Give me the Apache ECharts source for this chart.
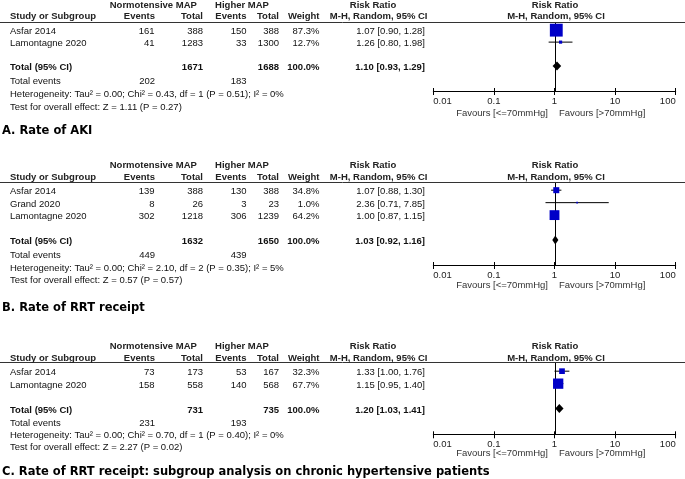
<!DOCTYPE html>
<html><head><meta charset="utf-8">
<script src="https://cdn.jsdelivr.net/npm/echarts@6/dist/echarts.min.js"></script>
<style>html,body{margin:0;padding:0;background:#fff}#c{width:685px;height:479px}</style>
</head><body><div id="c"></div>
<script>
// ---------- DATA ----------
const tickLabels = ['0.01', '0.1', '1', '10', '100'];
const favoursLeft = 'Favours [<=70mmHg]';
const favoursRight = 'Favours [>70mmHg]';

// Panel A: Rate of AKI
const titleA = 'A. Rate of AKI';
const studiesA = ['Asfar 2014', 'Lamontagne 2020'];
const rowsA = [1, 2];
const normEventsA = [161, 41];
const normTotalA = [388, 1283];
const highEventsA = [150, 33];
const highTotalA = [388, 1300];
const weightA = [87.3, 12.7];
const rrA = [1.07, 1.26];
const loA = [0.90, 0.80];
const hiA = [1.28, 1.98];
const totalRowA = 4;
const totalNormA = 1671, totalHighA = 1688;
const totalRrA = [1.10, 0.93, 1.29];
const totalEventsA = [202, 183];
const hetA = 'Heterogeneity: Tau\u00b2 = 0.00; Chi\u00b2 = 0.43, df = 1 (P = 0.51); I\u00b2 = 0%';
const testA = 'Test for overall effect: Z = 1.11 (P = 0.27)';

// Panel B: Rate of RRT receipt
const titleB = 'B. Rate of RRT receipt';
const studiesB = ['Asfar 2014', 'Grand 2020', 'Lamontagne 2020'];
const rowsB = [1, 2, 3];
const normEventsB = [139, 8, 302];
const normTotalB = [388, 26, 1218];
const highEventsB = [130, 3, 306];
const highTotalB = [388, 23, 1239];
const weightB = [34.8, 1.0, 64.2];
const rrB = [1.07, 2.36, 1.00];
const loB = [0.88, 0.71, 0.87];
const hiB = [1.30, 7.85, 1.15];
const totalRowB = 5;
const totalNormB = 1632, totalHighB = 1650;
const totalRrB = [1.03, 0.92, 1.16];
const totalEventsB = [449, 439];
const hetB = 'Heterogeneity: Tau\u00b2 = 0.00; Chi\u00b2 = 2.10, df = 2 (P = 0.35); I\u00b2 = 5%';
const testB = 'Test for overall effect: Z = 0.57 (P = 0.57)';

// Panel C: RRT receipt, chronic hypertensive subgroup
const titleC = 'C. Rate of RRT receipt: subgroup analysis on chronic hypertensive patients';
const studiesC = ['Asfar 2014', 'Lamontagne 2020'];
const rowsC = [1, 2];
const normEventsC = [73, 158];
const normTotalC = [173, 558];
const highEventsC = [53, 140];
const highTotalC = [167, 568];
const weightC = [32.3, 67.7];
const rrC = [1.33, 1.15];
const loC = [1.00, 0.95];
const hiC = [1.76, 1.40];
const totalRowC = 4;
const totalNormC = 731, totalHighC = 735;
const totalRrC = [1.20, 1.03, 1.41];
const totalEventsC = [231, 193];
const hetC = 'Heterogeneity: Tau\u00b2 = 0.00; Chi\u00b2 = 0.70, df = 1 (P = 0.40); I\u00b2 = 0%';
const testC = 'Test for overall effect: Z = 2.27 (P = 0.02)';

// ---------- LAYOUT (pixels) ----------
const layouts = [
  {h1: 5, h2: 16.8, line: 22.5, axis: 91, yMin: 0.36, yMax: 6.085, ev: 81, het: 94, test: 107, fav: 113.3, title: 131},
  {h1: 165, h2: 177.7, line: 182.5, axis: 265, yMin: 0.384, yMax: 7.0, ev: 255.7, het: 268.3, test: 280, fav: 285.5, title: 308.5},
  {h1: 346, h2: 358.3, line: 362.5, axis: 434.3, yMin: 0.304, yMax: 6.06, ev: 423.3, het: 435.7, test: 447.3, fav: 453.6, title: 471.7}
];

const panels = [
  {title: titleA, studies: studiesA, rows: rowsA, ne: normEventsA, nt: normTotalA, he: highEventsA, ht: highTotalA, w: weightA, rr: rrA, lo: loA, hi: hiA,
   totalRow: totalRowA, totalN: totalNormA, totalH: totalHighA, totalRr: totalRrA, totalEv: totalEventsA, het: hetA, test: testA},
  {title: titleB, studies: studiesB, rows: rowsB, ne: normEventsB, nt: normTotalB, he: highEventsB, ht: highTotalB, w: weightB, rr: rrB, lo: loB, hi: hiB,
   totalRow: totalRowB, totalN: totalNormB, totalH: totalHighB, totalRr: totalRrB, totalEv: totalEventsB, het: hetB, test: testB},
  {title: titleC, studies: studiesC, rows: rowsC, ne: normEventsC, nt: normTotalC, he: highEventsC, ht: highTotalC, w: weightC, rr: rrC, lo: loC, hi: hiC,
   totalRow: totalRowC, totalN: totalNormC, totalH: totalHighC, totalRr: totalRrC, totalEv: totalEventsC, het: hetC, test: testC}
];

const FONT = '"Liberation Sans", Arial, sans-serif';
const TFONT = '9.5px ' + FONT;
const BFONT = 'bold 9.5px ' + FONT;
const TITLEFONT = 'bold 11.5px "DejaVu Sans", Verdana, sans-serif';
const TXT = '#111';
const BLUE = '#0000c8';
const PLOT_LEFT = 433.3, PLOT_W = 242.4;

const chart = echarts.init(document.getElementById('c'), null, {renderer: 'canvas'});

const grid = [], xAxis = [], yAxis = [], series = [];
layouts.forEach((L, i) => {
  grid.push({left: PLOT_LEFT, width: PLOT_W, top: L.line, height: L.axis - L.line, containLabel: false});
  yAxis.push({type: 'value', gridIndex: i, inverse: true, min: L.yMin, max: L.yMax, show: false});
});
layouts.forEach((L, i) => {
  xAxis.push({
    type: 'log', logBase: 10, gridIndex: i, min: 0.01, max: 100, position: 'bottom',
    axisLine: {show: true, onZero: false, lineStyle: {color: '#000', width: 1}},
    axisTick: {show: true, inside: false, length: 4, lineStyle: {color: '#000', width: 1}},
    axisLabel: {show: true, color: '#222', fontSize: 9.5, fontFamily: FONT, margin: 5,
      alignMinLabel: 'left', alignMaxLabel: 'right',
      formatter: (v, idx) => tickLabels[idx]},
    splitLine: {show: false}, minorTick: {show: false}
  });
});
layouts.forEach((L, i) => {
  xAxis.push({
    type: 'log', logBase: 10, gridIndex: i, min: 0.01, max: 100, position: 'bottom',
    axisLine: {show: false, onZero: false},
    axisTick: {show: true, inside: true, length: 3, lineStyle: {color: '#000', width: 1}},
    axisLabel: {show: false}, splitLine: {show: false}
  });
});

panels.forEach((P, i) => {
  // reference line at RR = 1
  series.push({
    type: 'custom', xAxisIndex: i, yAxisIndex: i, z: 1, silent: true,
    data: [[1, P.rows[0]]],
    renderItem: (params, api) => {
      const cs = params.coordSys;
      const x = Math.round(api.coord([api.value(0), api.value(1)])[0]) + 0.5;
      return {type: 'line', shape: {x1: x, y1: cs.y, x2: x, y2: cs.y + cs.height},
        style: {stroke: '#000', lineWidth: 1}};
    }
  });
  // studies
  series.push({
    type: 'custom', xAxisIndex: i, yAxisIndex: i, z: 3, silent: true,
    data: P.studies.map((s, k) => [P.rr[k], P.rows[k], P.lo[k], P.hi[k], P.w[k]]),
    encode: {x: 0, y: 1},
    renderItem: (params, api) => {
      const c = api.coord([api.value(0), api.value(1)]);
      const pl = api.coord([api.value(2), api.value(1)]);
      const ph = api.coord([api.value(3), api.value(1)]);
      const s = 1.5 + 0.13 * api.value(4);
      return {type: 'group', children: [
        {type: 'line', shape: {x1: pl[0], y1: c[1], x2: ph[0], y2: c[1]}, style: {stroke: '#000', lineWidth: 1}},
        {type: 'rect', shape: {x: c[0] - s / 2, y: c[1] - s / 2, width: s, height: s}, style: {fill: BLUE}}
      ]};
    }
  });
  // pooled diamond
  series.push({
    type: 'custom', xAxisIndex: i, yAxisIndex: i, z: 3, silent: true,
    data: [[P.totalRr[0], P.totalRow, P.totalRr[1], P.totalRr[2]]],
    encode: {x: 0, y: 1},
    renderItem: (params, api) => {
      const c = api.coord([api.value(0), api.value(1)]);
      const pl = api.coord([api.value(2), api.value(1)]);
      const ph = api.coord([api.value(3), api.value(1)]);
      const hh = 4.5;
      return {type: 'polygon', shape: {points: [[pl[0], c[1]], [c[0], c[1] - hh], [ph[0], c[1]], [c[0], c[1] + hh]]},
        style: {fill: '#000'}};
    }
  });
});

chart.setOption({animation: false, backgroundColor: '#fff', grid, xAxis, yAxis, series});

// ---------- TABLE TEXT ----------
const g = [];
function txt(text, x, y, align, font, fill) {
  g.push({type: 'text', silent: true, z: 10, style: {text: String(text), x, y, align: align || 'left', verticalAlign: 'middle',
    font: font || TFONT, fill: fill || TXT}});
}
const fmtRR = (e, l, h) => e.toFixed(2) + ' [' + l.toFixed(2) + ', ' + h.toFixed(2) + ']';
const COL = {study: 10, ne: 154.5, nt: 203, he: 246.5, ht: 279, w: 319.5, rr: 425};

panels.forEach((P, i) => {
  const L = layouts[i];
  // header rows
  txt('Normotensive MAP', 153.3, L.h1, 'center', BFONT, '#222');
  txt('Higher MAP', 242, L.h1, 'center', BFONT, '#222');
  txt('Risk Ratio', 373, L.h1, 'center', BFONT, '#222');
  txt('Risk Ratio', 555, L.h1, 'center', BFONT, '#222');
  txt('Study or Subgroup', COL.study, L.h2, 'left', BFONT, '#222');
  txt('Events', COL.ne + 0.5, L.h2, 'right', BFONT, '#222');
  txt('Total', COL.nt, L.h2, 'right', BFONT, '#222');
  txt('Events', COL.he, L.h2, 'right', BFONT, '#222');
  txt('Total', COL.ht, L.h2, 'right', BFONT, '#222');
  txt('Weight', COL.w, L.h2, 'right', BFONT, '#222');
  txt('M-H, Random, 95% CI', 427.5, L.h2, 'right', BFONT, '#222');
  txt('M-H, Random, 95% CI', 556, L.h2, 'center', BFONT, '#222');
  g.push({type: 'line', silent: true, z: 9, shape: {x1: 0, y1: L.line, x2: 685, y2: L.line}, style: {stroke: '#333', lineWidth: 1}});

  // study rows
  P.studies.forEach((s, k) => {
    const y = chart.convertToPixel({yAxisIndex: i}, P.rows[k]) + 1.5;
    txt(s, COL.study, y);
    txt(P.ne[k], COL.ne, y, 'right');
    txt(P.nt[k], COL.nt, y, 'right');
    txt(P.he[k], COL.he, y, 'right');
    txt(P.ht[k], COL.ht, y, 'right');
    txt(P.w[k].toFixed(1) + '%', COL.w, y, 'right');
    txt(fmtRR(P.rr[k], P.lo[k], P.hi[k]), COL.rr, y, 'right');
  });
  // total row
  const ty = chart.convertToPixel({yAxisIndex: i}, P.totalRow) + 1.5;
  txt('Total (95% CI)', COL.study, ty, 'left', BFONT);
  txt(P.totalN, COL.nt, ty, 'right', BFONT);
  txt(P.totalH, COL.ht, ty, 'right', BFONT);
  txt('100.0%', COL.w, ty, 'right', BFONT);
  txt(fmtRR(P.totalRr[0], P.totalRr[1], P.totalRr[2]), COL.rr, ty, 'right', BFONT);
  // footer
  txt('Total events', COL.study, L.ev);
  txt(P.totalEv[0], COL.ne + 0.5, L.ev, 'right');
  txt(P.totalEv[1], COL.he, L.ev, 'right');
  txt(P.het, COL.study, L.het);
  txt(P.test, COL.study, L.test);
  // favours labels around RR = 1
  const x1 = chart.convertToPixel({xAxisIndex: i}, 1);
  txt(favoursLeft, x1 - 6.5, L.fav, 'right', TFONT, '#333');
  txt(favoursRight, x1 + 4.5, L.fav, 'left', TFONT, '#333');
  // panel title
  txt(P.title, 2, L.title, 'left', TITLEFONT, '#000');
});

chart.setOption({graphic: {elements: g}});
</script></body></html>
